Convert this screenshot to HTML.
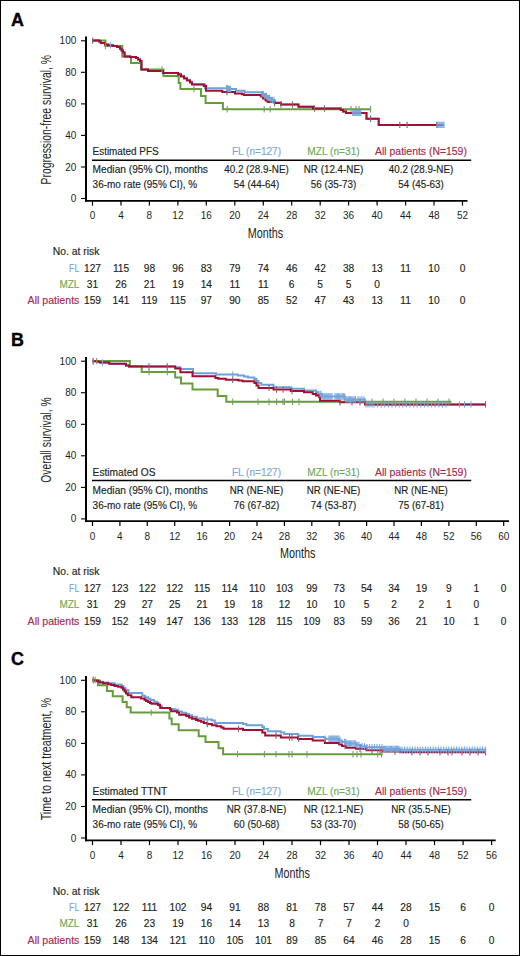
<!DOCTYPE html>
<html><head><meta charset="utf-8"><title>Kaplan-Meier curves</title>
<style>
html,body{margin:0;padding:0;background:#fff;}
body{width:520px;height:956px;overflow:hidden;}
svg{display:block;font-family:"Liberation Sans", sans-serif;}
</style></head>
<body>
<svg width="520" height="956" viewBox="0 0 520 956">
<rect x="0" y="0" width="520" height="956" fill="#fff"/>
<text x="10.9" y="25.5" font-size="17.9" font-weight="bold" fill="#000" stroke="#000" stroke-width="0.35">A</text>
<text transform="translate(51.0 119.7) rotate(-90)" text-anchor="middle" font-size="14.2" textLength="129.4" lengthAdjust="spacingAndGlyphs" fill="#231f20">Progression-free survival, %</text>
<line x1="86" y1="36.5" x2="86" y2="201.7" stroke="#000" stroke-width="2"/>
<line x1="85" y1="200.8" x2="467.5" y2="200.8" stroke="#000" stroke-width="1.8"/>
<line x1="81" y1="40.8" x2="86" y2="40.8" stroke="#000" stroke-width="1.1"/>
<text x="76.3" y="44.3" font-size="10" text-anchor="end" fill="#231f20">100</text>
<line x1="81" y1="72.3" x2="86" y2="72.3" stroke="#000" stroke-width="1.1"/>
<text x="76.3" y="75.8" font-size="10" text-anchor="end" fill="#231f20">80</text>
<line x1="81" y1="103.9" x2="86" y2="103.9" stroke="#000" stroke-width="1.1"/>
<text x="76.3" y="107.4" font-size="10" text-anchor="end" fill="#231f20">60</text>
<line x1="81" y1="135.4" x2="86" y2="135.4" stroke="#000" stroke-width="1.1"/>
<text x="76.3" y="138.9" font-size="10" text-anchor="end" fill="#231f20">40</text>
<line x1="81" y1="167.0" x2="86" y2="167.0" stroke="#000" stroke-width="1.1"/>
<text x="76.3" y="170.5" font-size="10" text-anchor="end" fill="#231f20">20</text>
<line x1="81" y1="198.5" x2="86" y2="198.5" stroke="#000" stroke-width="1.1"/>
<text x="76.3" y="202.0" font-size="10" text-anchor="end" fill="#231f20">0</text>
<line x1="92.5" y1="201.0" x2="92.5" y2="205.6" stroke="#000" stroke-width="1.2"/>
<text x="92.5" y="219.2" font-size="10" text-anchor="middle" fill="#231f20">0</text>
<line x1="121.0" y1="201.0" x2="121.0" y2="205.6" stroke="#000" stroke-width="1.2"/>
<text x="121.0" y="219.2" font-size="10" text-anchor="middle" fill="#231f20">4</text>
<line x1="149.4" y1="201.0" x2="149.4" y2="205.6" stroke="#000" stroke-width="1.2"/>
<text x="149.4" y="219.2" font-size="10" text-anchor="middle" fill="#231f20">8</text>
<line x1="177.9" y1="201.0" x2="177.9" y2="205.6" stroke="#000" stroke-width="1.2"/>
<text x="177.9" y="219.2" font-size="10" text-anchor="middle" fill="#231f20">12</text>
<line x1="206.3" y1="201.0" x2="206.3" y2="205.6" stroke="#000" stroke-width="1.2"/>
<text x="206.3" y="219.2" font-size="10" text-anchor="middle" fill="#231f20">16</text>
<line x1="234.8" y1="201.0" x2="234.8" y2="205.6" stroke="#000" stroke-width="1.2"/>
<text x="234.8" y="219.2" font-size="10" text-anchor="middle" fill="#231f20">20</text>
<line x1="263.3" y1="201.0" x2="263.3" y2="205.6" stroke="#000" stroke-width="1.2"/>
<text x="263.3" y="219.2" font-size="10" text-anchor="middle" fill="#231f20">24</text>
<line x1="291.7" y1="201.0" x2="291.7" y2="205.6" stroke="#000" stroke-width="1.2"/>
<text x="291.7" y="219.2" font-size="10" text-anchor="middle" fill="#231f20">28</text>
<line x1="320.2" y1="201.0" x2="320.2" y2="205.6" stroke="#000" stroke-width="1.2"/>
<text x="320.2" y="219.2" font-size="10" text-anchor="middle" fill="#231f20">32</text>
<line x1="348.6" y1="201.0" x2="348.6" y2="205.6" stroke="#000" stroke-width="1.2"/>
<text x="348.6" y="219.2" font-size="10" text-anchor="middle" fill="#231f20">36</text>
<line x1="377.1" y1="201.0" x2="377.1" y2="205.6" stroke="#000" stroke-width="1.2"/>
<text x="377.1" y="219.2" font-size="10" text-anchor="middle" fill="#231f20">40</text>
<line x1="405.6" y1="201.0" x2="405.6" y2="205.6" stroke="#000" stroke-width="1.2"/>
<text x="405.6" y="219.2" font-size="10" text-anchor="middle" fill="#231f20">44</text>
<line x1="434.0" y1="201.0" x2="434.0" y2="205.6" stroke="#000" stroke-width="1.2"/>
<text x="434.0" y="219.2" font-size="10" text-anchor="middle" fill="#231f20">48</text>
<line x1="462.5" y1="201.0" x2="462.5" y2="205.6" stroke="#000" stroke-width="1.2"/>
<text x="462.5" y="219.2" font-size="10" text-anchor="middle" fill="#231f20">52</text>
<text x="265.5" y="238.0" text-anchor="middle" font-size="13.8" textLength="35.4" lengthAdjust="spacingAndGlyphs" fill="#231f20">Months</text>
<text x="92.6" y="155.2" font-size="10.2" textLength="66.0" lengthAdjust="spacingAndGlyphs" fill="#231f20" stroke="#231f20" stroke-width="0.15">Estimated PFS</text>
<line x1="92" y1="160.2" x2="471.2" y2="160.2" stroke="#000" stroke-width="1.5"/>
<text x="92.6" y="173.2" font-size="10.2" textLength="115.3" lengthAdjust="spacingAndGlyphs" fill="#231f20" stroke="#231f20" stroke-width="0.15">Median (95% CI), months</text>
<text x="92.6" y="188.4" font-size="10.2" textLength="104.6" lengthAdjust="spacingAndGlyphs" fill="#231f20" stroke="#231f20" stroke-width="0.15">36-mo rate (95% CI), %</text>
<text x="256.5" y="155.2" font-size="10.2" text-anchor="middle" textLength="49.2" lengthAdjust="spacingAndGlyphs" fill="#7ca6da" stroke="#7ca6da" stroke-width="0.15">FL (n=127)</text>
<text x="256.5" y="173.2" font-size="10.2" text-anchor="middle" textLength="64.6" lengthAdjust="spacingAndGlyphs" fill="#231f20" stroke="#231f20" stroke-width="0.15">40.2 (28.9-NE)</text>
<text x="256.5" y="188.4" font-size="10.2" text-anchor="middle" textLength="45.4" lengthAdjust="spacingAndGlyphs" fill="#231f20" stroke="#231f20" stroke-width="0.15">54 (44-64)</text>
<text x="333.5" y="155.2" font-size="10.2" text-anchor="middle" textLength="52.5" lengthAdjust="spacingAndGlyphs" fill="#72a955" stroke="#72a955" stroke-width="0.15">MZL (n=31)</text>
<text x="333.5" y="173.2" font-size="10.2" text-anchor="middle" textLength="59.6" lengthAdjust="spacingAndGlyphs" fill="#231f20" stroke="#231f20" stroke-width="0.15">NR (12.4-NE)</text>
<text x="333.5" y="188.4" font-size="10.2" text-anchor="middle" textLength="45.4" lengthAdjust="spacingAndGlyphs" fill="#231f20" stroke="#231f20" stroke-width="0.15">56 (35-73)</text>
<text x="421.0" y="155.2" font-size="10.2" text-anchor="middle" textLength="91.8" lengthAdjust="spacingAndGlyphs" fill="#a62850" stroke="#a62850" stroke-width="0.15">All patients (N=159)</text>
<text x="421.0" y="173.2" font-size="10.2" text-anchor="middle" textLength="64.6" lengthAdjust="spacingAndGlyphs" fill="#231f20" stroke="#231f20" stroke-width="0.15">40.2 (28.9-NE)</text>
<text x="421.0" y="188.4" font-size="10.2" text-anchor="middle" textLength="45.4" lengthAdjust="spacingAndGlyphs" fill="#231f20" stroke="#231f20" stroke-width="0.15">54 (45-63)</text>
<path d="M92.5 40.6H99.2V41.4H100.8V42.9H105.0V44.5H108.0V45.2H113.0V46.0H117.0V47.0H120.0V48.7H121.5V50.5H123.0V52.5H124.6V56.4H130.0V57.0H136.0V58.0H138.0V59.5H140.0V61.0H141.5V69.5H148.0V71.0H163.0V73.0H178.0V73.8H181.0V75.8H184.0V77.8H187.0V79.8H190.0V81.8H192.0V84.2H203.8V84.4H205.0V88.2H228.0V89.0H236.0V90.8H244.6V92.3H262.0V94.0H265.0V96.0H268.0V98.0H271.0V100.0H274.6V102.6H281.0V104.6H298.5V106.7H313.0V108.5H340.8V110.0H343.0V111.5H346.0V112.9H366.5V118.7H378.7V124.9H443.7" fill="none" stroke="#6ea2dc" stroke-width="2"/>
<path d="M92.5 40.6H105.4V46.0H122.3V56.4H131.0V63.0H141.0V69.5H163.5V76.0H178.7V83.0H180.4V89.0H201.0V96.0H205.6V103.1H222.9V109.3H370.6" fill="none" stroke="#659d3b" stroke-width="2"/>
<path d="M92.5 40.6H99.2V41.4H100.8V42.9H105.0V44.5H108.0V45.2H113.0V46.0H117.0V47.0H120.0V48.7H121.5V50.5H123.0V52.5H124.6V56.4H130.0V57.0H136.0V58.0H138.0V59.5H140.0V61.0H141.5V69.5H148.0V71.0H163.0V73.0H178.0V74.5H181.0V76.5H184.0V78.5H187.0V80.5H190.0V82.5H192.0V84.6H203.8V86.0H206.0V90.8H222.3V92.0H235.0V93.6H242.0V94.3H244.0V95.0H260.8V96.5H263.0V98.5H265.5V100.5H267.7V102.0H274.6V103.0H281.0V104.6H298.5V106.7H313.0V108.5H340.8V110.0H343.0V111.5H346.0V112.9H366.5V118.7H378.7V124.9H443.7" fill="none" stroke="#a10f35" stroke-width="2"/>
<line x1="92.7" y1="37.4" x2="92.7" y2="43.8" stroke="#86606e" stroke-width="1.1"/>
<line x1="227.0" y1="88.8" x2="227.0" y2="95.2" stroke="#86606e" stroke-width="1.1"/>
<line x1="274.6" y1="99.8" x2="274.6" y2="106.2" stroke="#86606e" stroke-width="1.1"/>
<line x1="281.0" y1="101.4" x2="281.0" y2="107.8" stroke="#86606e" stroke-width="1.1"/>
<line x1="292.5" y1="101.4" x2="292.5" y2="107.8" stroke="#86606e" stroke-width="1.1"/>
<line x1="314.5" y1="105.3" x2="314.5" y2="111.7" stroke="#86606e" stroke-width="1.1"/>
<line x1="324.4" y1="105.3" x2="324.4" y2="111.7" stroke="#86606e" stroke-width="1.1"/>
<line x1="370.6" y1="115.5" x2="370.6" y2="121.9" stroke="#86606e" stroke-width="1.1"/>
<line x1="399.8" y1="121.7" x2="399.8" y2="128.1" stroke="#86606e" stroke-width="1.1"/>
<line x1="407.1" y1="121.7" x2="407.1" y2="128.1" stroke="#86606e" stroke-width="1.1"/>
<line x1="436.7" y1="121.7" x2="436.7" y2="128.1" stroke="#86606e" stroke-width="1.1"/>
<line x1="105.4" y1="42.8" x2="105.4" y2="49.2" stroke="#7d9a6c" stroke-width="1.1"/>
<line x1="162.0" y1="66.3" x2="162.0" y2="72.7" stroke="#7d9a6c" stroke-width="1.1"/>
<line x1="194.0" y1="85.8" x2="194.0" y2="92.2" stroke="#7d9a6c" stroke-width="1.1"/>
<line x1="227.2" y1="106.1" x2="227.2" y2="112.5" stroke="#7d9a6c" stroke-width="1.1"/>
<line x1="264.2" y1="106.1" x2="264.2" y2="112.5" stroke="#7d9a6c" stroke-width="1.1"/>
<line x1="270.2" y1="106.1" x2="270.2" y2="112.5" stroke="#7d9a6c" stroke-width="1.1"/>
<line x1="351.0" y1="106.1" x2="351.0" y2="112.5" stroke="#7d9a6c" stroke-width="1.1"/>
<line x1="356.0" y1="106.1" x2="356.0" y2="112.5" stroke="#7d9a6c" stroke-width="1.1"/>
<line x1="359.0" y1="106.1" x2="359.0" y2="112.5" stroke="#7d9a6c" stroke-width="1.1"/>
<line x1="370.6" y1="106.1" x2="370.6" y2="112.5" stroke="#7d9a6c" stroke-width="1.1"/>
<line x1="110.4" y1="42.0" x2="110.4" y2="48.4" stroke="#74a6de" stroke-width="1.1"/>
<line x1="226.5" y1="85.0" x2="226.5" y2="91.4" stroke="#74a6de" stroke-width="1.1"/>
<line x1="227.5" y1="85.0" x2="227.5" y2="91.4" stroke="#74a6de" stroke-width="1.1"/>
<line x1="228.5" y1="85.8" x2="228.5" y2="92.2" stroke="#74a6de" stroke-width="1.1"/>
<line x1="229.5" y1="85.8" x2="229.5" y2="92.2" stroke="#74a6de" stroke-width="1.1"/>
<line x1="230.5" y1="85.8" x2="230.5" y2="92.2" stroke="#74a6de" stroke-width="1.1"/>
<line x1="262.0" y1="90.8" x2="262.0" y2="97.2" stroke="#74a6de" stroke-width="1.1"/>
<line x1="263.5" y1="90.8" x2="263.5" y2="97.2" stroke="#74a6de" stroke-width="1.1"/>
<line x1="265.0" y1="92.8" x2="265.0" y2="99.2" stroke="#74a6de" stroke-width="1.1"/>
<line x1="266.5" y1="92.8" x2="266.5" y2="99.2" stroke="#74a6de" stroke-width="1.1"/>
<line x1="268.0" y1="94.8" x2="268.0" y2="101.2" stroke="#74a6de" stroke-width="1.1"/>
<line x1="269.5" y1="94.8" x2="269.5" y2="101.2" stroke="#74a6de" stroke-width="1.1"/>
<line x1="271.0" y1="96.8" x2="271.0" y2="103.2" stroke="#74a6de" stroke-width="1.1"/>
<line x1="272.5" y1="96.8" x2="272.5" y2="103.2" stroke="#74a6de" stroke-width="1.1"/>
<line x1="274.0" y1="96.8" x2="274.0" y2="103.2" stroke="#74a6de" stroke-width="1.1"/>
<line x1="352.7" y1="109.7" x2="352.7" y2="116.1" stroke="#74a6de" stroke-width="1.1"/>
<line x1="353.7" y1="109.7" x2="353.7" y2="116.1" stroke="#74a6de" stroke-width="1.1"/>
<line x1="354.7" y1="109.7" x2="354.7" y2="116.1" stroke="#74a6de" stroke-width="1.1"/>
<line x1="355.7" y1="109.7" x2="355.7" y2="116.1" stroke="#74a6de" stroke-width="1.1"/>
<line x1="356.7" y1="109.7" x2="356.7" y2="116.1" stroke="#74a6de" stroke-width="1.1"/>
<line x1="357.7" y1="109.7" x2="357.7" y2="116.1" stroke="#74a6de" stroke-width="1.1"/>
<line x1="358.7" y1="109.7" x2="358.7" y2="116.1" stroke="#74a6de" stroke-width="1.1"/>
<line x1="359.7" y1="109.7" x2="359.7" y2="116.1" stroke="#74a6de" stroke-width="1.1"/>
<line x1="360.7" y1="109.7" x2="360.7" y2="116.1" stroke="#74a6de" stroke-width="1.1"/>
<line x1="437.0" y1="121.7" x2="437.0" y2="128.1" stroke="#74a6de" stroke-width="1.1"/>
<line x1="438.0" y1="121.7" x2="438.0" y2="128.1" stroke="#74a6de" stroke-width="1.1"/>
<line x1="439.0" y1="121.7" x2="439.0" y2="128.1" stroke="#74a6de" stroke-width="1.1"/>
<line x1="440.0" y1="121.7" x2="440.0" y2="128.1" stroke="#74a6de" stroke-width="1.1"/>
<line x1="441.0" y1="121.7" x2="441.0" y2="128.1" stroke="#74a6de" stroke-width="1.1"/>
<line x1="442.0" y1="121.7" x2="442.0" y2="128.1" stroke="#74a6de" stroke-width="1.1"/>
<line x1="443.0" y1="121.7" x2="443.0" y2="128.1" stroke="#74a6de" stroke-width="1.1"/>
<line x1="444.0" y1="121.7" x2="444.0" y2="128.1" stroke="#74a6de" stroke-width="1.1"/>
<text x="52.7" y="255.0" font-size="10.2" textLength="46.8" lengthAdjust="spacingAndGlyphs" fill="#231f20" stroke="#231f20" stroke-width="0.15">No. at risk</text>
<text x="79.4" y="271.7" font-size="10.2" text-anchor="end" textLength="10.3" lengthAdjust="spacingAndGlyphs" fill="#7ca6da" stroke="#7ca6da" stroke-width="0.15">FL</text>
<text x="92.5" y="271.7" font-size="10.2" text-anchor="middle" fill="#231f20" stroke="#231f20" stroke-width="0.15">127</text>
<text x="121.0" y="271.7" font-size="10.2" text-anchor="middle" fill="#231f20" stroke="#231f20" stroke-width="0.15">115</text>
<text x="149.4" y="271.7" font-size="10.2" text-anchor="middle" fill="#231f20" stroke="#231f20" stroke-width="0.15">98</text>
<text x="177.9" y="271.7" font-size="10.2" text-anchor="middle" fill="#231f20" stroke="#231f20" stroke-width="0.15">96</text>
<text x="206.3" y="271.7" font-size="10.2" text-anchor="middle" fill="#231f20" stroke="#231f20" stroke-width="0.15">83</text>
<text x="234.8" y="271.7" font-size="10.2" text-anchor="middle" fill="#231f20" stroke="#231f20" stroke-width="0.15">79</text>
<text x="263.3" y="271.7" font-size="10.2" text-anchor="middle" fill="#231f20" stroke="#231f20" stroke-width="0.15">74</text>
<text x="291.7" y="271.7" font-size="10.2" text-anchor="middle" fill="#231f20" stroke="#231f20" stroke-width="0.15">46</text>
<text x="320.2" y="271.7" font-size="10.2" text-anchor="middle" fill="#231f20" stroke="#231f20" stroke-width="0.15">42</text>
<text x="348.6" y="271.7" font-size="10.2" text-anchor="middle" fill="#231f20" stroke="#231f20" stroke-width="0.15">38</text>
<text x="377.1" y="271.7" font-size="10.2" text-anchor="middle" fill="#231f20" stroke="#231f20" stroke-width="0.15">13</text>
<text x="405.6" y="271.7" font-size="10.2" text-anchor="middle" fill="#231f20" stroke="#231f20" stroke-width="0.15">11</text>
<text x="434.0" y="271.7" font-size="10.2" text-anchor="middle" fill="#231f20" stroke="#231f20" stroke-width="0.15">10</text>
<text x="462.5" y="271.7" font-size="10.2" text-anchor="middle" fill="#231f20" stroke="#231f20" stroke-width="0.15">0</text>
<text x="79.4" y="287.8" font-size="10.2" text-anchor="end" textLength="20.0" lengthAdjust="spacingAndGlyphs" fill="#72a955" stroke="#72a955" stroke-width="0.15">MZL</text>
<text x="92.5" y="287.8" font-size="10.2" text-anchor="middle" fill="#231f20" stroke="#231f20" stroke-width="0.15">31</text>
<text x="121.0" y="287.8" font-size="10.2" text-anchor="middle" fill="#231f20" stroke="#231f20" stroke-width="0.15">26</text>
<text x="149.4" y="287.8" font-size="10.2" text-anchor="middle" fill="#231f20" stroke="#231f20" stroke-width="0.15">21</text>
<text x="177.9" y="287.8" font-size="10.2" text-anchor="middle" fill="#231f20" stroke="#231f20" stroke-width="0.15">19</text>
<text x="206.3" y="287.8" font-size="10.2" text-anchor="middle" fill="#231f20" stroke="#231f20" stroke-width="0.15">14</text>
<text x="234.8" y="287.8" font-size="10.2" text-anchor="middle" fill="#231f20" stroke="#231f20" stroke-width="0.15">11</text>
<text x="263.3" y="287.8" font-size="10.2" text-anchor="middle" fill="#231f20" stroke="#231f20" stroke-width="0.15">11</text>
<text x="291.7" y="287.8" font-size="10.2" text-anchor="middle" fill="#231f20" stroke="#231f20" stroke-width="0.15">6</text>
<text x="320.2" y="287.8" font-size="10.2" text-anchor="middle" fill="#231f20" stroke="#231f20" stroke-width="0.15">5</text>
<text x="348.6" y="287.8" font-size="10.2" text-anchor="middle" fill="#231f20" stroke="#231f20" stroke-width="0.15">5</text>
<text x="377.1" y="287.8" font-size="10.2" text-anchor="middle" fill="#231f20" stroke="#231f20" stroke-width="0.15">0</text>
<text x="79.4" y="304.1" font-size="10.2" text-anchor="end" textLength="51.8" lengthAdjust="spacingAndGlyphs" fill="#a62850" stroke="#a62850" stroke-width="0.15">All patients</text>
<text x="92.5" y="304.1" font-size="10.2" text-anchor="middle" fill="#231f20" stroke="#231f20" stroke-width="0.15">159</text>
<text x="121.0" y="304.1" font-size="10.2" text-anchor="middle" fill="#231f20" stroke="#231f20" stroke-width="0.15">141</text>
<text x="149.4" y="304.1" font-size="10.2" text-anchor="middle" fill="#231f20" stroke="#231f20" stroke-width="0.15">119</text>
<text x="177.9" y="304.1" font-size="10.2" text-anchor="middle" fill="#231f20" stroke="#231f20" stroke-width="0.15">115</text>
<text x="206.3" y="304.1" font-size="10.2" text-anchor="middle" fill="#231f20" stroke="#231f20" stroke-width="0.15">97</text>
<text x="234.8" y="304.1" font-size="10.2" text-anchor="middle" fill="#231f20" stroke="#231f20" stroke-width="0.15">90</text>
<text x="263.3" y="304.1" font-size="10.2" text-anchor="middle" fill="#231f20" stroke="#231f20" stroke-width="0.15">85</text>
<text x="291.7" y="304.1" font-size="10.2" text-anchor="middle" fill="#231f20" stroke="#231f20" stroke-width="0.15">52</text>
<text x="320.2" y="304.1" font-size="10.2" text-anchor="middle" fill="#231f20" stroke="#231f20" stroke-width="0.15">47</text>
<text x="348.6" y="304.1" font-size="10.2" text-anchor="middle" fill="#231f20" stroke="#231f20" stroke-width="0.15">43</text>
<text x="377.1" y="304.1" font-size="10.2" text-anchor="middle" fill="#231f20" stroke="#231f20" stroke-width="0.15">13</text>
<text x="405.6" y="304.1" font-size="10.2" text-anchor="middle" fill="#231f20" stroke="#231f20" stroke-width="0.15">11</text>
<text x="434.0" y="304.1" font-size="10.2" text-anchor="middle" fill="#231f20" stroke="#231f20" stroke-width="0.15">10</text>
<text x="462.5" y="304.1" font-size="10.2" text-anchor="middle" fill="#231f20" stroke="#231f20" stroke-width="0.15">0</text>
<text x="10.9" y="345.9" font-size="17.9" font-weight="bold" fill="#000" stroke="#000" stroke-width="0.35">B</text>
<text transform="translate(51.0 440.1) rotate(-90)" text-anchor="middle" font-size="14.2" textLength="85.3" lengthAdjust="spacingAndGlyphs" fill="#231f20">Overall survival, %</text>
<line x1="86" y1="356.9" x2="86" y2="522.1" stroke="#000" stroke-width="2"/>
<line x1="85" y1="521.2" x2="509.0" y2="521.2" stroke="#000" stroke-width="1.8"/>
<line x1="81" y1="361.2" x2="86" y2="361.2" stroke="#000" stroke-width="1.1"/>
<text x="76.3" y="364.7" font-size="10" text-anchor="end" fill="#231f20">100</text>
<line x1="81" y1="392.7" x2="86" y2="392.7" stroke="#000" stroke-width="1.1"/>
<text x="76.3" y="396.2" font-size="10" text-anchor="end" fill="#231f20">80</text>
<line x1="81" y1="424.3" x2="86" y2="424.3" stroke="#000" stroke-width="1.1"/>
<text x="76.3" y="427.8" font-size="10" text-anchor="end" fill="#231f20">60</text>
<line x1="81" y1="455.8" x2="86" y2="455.8" stroke="#000" stroke-width="1.1"/>
<text x="76.3" y="459.3" font-size="10" text-anchor="end" fill="#231f20">40</text>
<line x1="81" y1="487.4" x2="86" y2="487.4" stroke="#000" stroke-width="1.1"/>
<text x="76.3" y="490.9" font-size="10" text-anchor="end" fill="#231f20">20</text>
<line x1="81" y1="518.9" x2="86" y2="518.9" stroke="#000" stroke-width="1.1"/>
<text x="76.3" y="522.4" font-size="10" text-anchor="end" fill="#231f20">0</text>
<line x1="92.5" y1="521.4" x2="92.5" y2="526.0" stroke="#000" stroke-width="1.2"/>
<text x="92.5" y="539.6" font-size="10" text-anchor="middle" fill="#231f20">0</text>
<line x1="119.9" y1="521.4" x2="119.9" y2="526.0" stroke="#000" stroke-width="1.2"/>
<text x="119.9" y="539.6" font-size="10" text-anchor="middle" fill="#231f20">4</text>
<line x1="147.3" y1="521.4" x2="147.3" y2="526.0" stroke="#000" stroke-width="1.2"/>
<text x="147.3" y="539.6" font-size="10" text-anchor="middle" fill="#231f20">8</text>
<line x1="174.7" y1="521.4" x2="174.7" y2="526.0" stroke="#000" stroke-width="1.2"/>
<text x="174.7" y="539.6" font-size="10" text-anchor="middle" fill="#231f20">12</text>
<line x1="202.1" y1="521.4" x2="202.1" y2="526.0" stroke="#000" stroke-width="1.2"/>
<text x="202.1" y="539.6" font-size="10" text-anchor="middle" fill="#231f20">16</text>
<line x1="229.6" y1="521.4" x2="229.6" y2="526.0" stroke="#000" stroke-width="1.2"/>
<text x="229.6" y="539.6" font-size="10" text-anchor="middle" fill="#231f20">20</text>
<line x1="257.0" y1="521.4" x2="257.0" y2="526.0" stroke="#000" stroke-width="1.2"/>
<text x="257.0" y="539.6" font-size="10" text-anchor="middle" fill="#231f20">24</text>
<line x1="284.4" y1="521.4" x2="284.4" y2="526.0" stroke="#000" stroke-width="1.2"/>
<text x="284.4" y="539.6" font-size="10" text-anchor="middle" fill="#231f20">28</text>
<line x1="311.8" y1="521.4" x2="311.8" y2="526.0" stroke="#000" stroke-width="1.2"/>
<text x="311.8" y="539.6" font-size="10" text-anchor="middle" fill="#231f20">32</text>
<line x1="339.2" y1="521.4" x2="339.2" y2="526.0" stroke="#000" stroke-width="1.2"/>
<text x="339.2" y="539.6" font-size="10" text-anchor="middle" fill="#231f20">36</text>
<line x1="366.6" y1="521.4" x2="366.6" y2="526.0" stroke="#000" stroke-width="1.2"/>
<text x="366.6" y="539.6" font-size="10" text-anchor="middle" fill="#231f20">40</text>
<line x1="394.0" y1="521.4" x2="394.0" y2="526.0" stroke="#000" stroke-width="1.2"/>
<text x="394.0" y="539.6" font-size="10" text-anchor="middle" fill="#231f20">44</text>
<line x1="421.4" y1="521.4" x2="421.4" y2="526.0" stroke="#000" stroke-width="1.2"/>
<text x="421.4" y="539.6" font-size="10" text-anchor="middle" fill="#231f20">48</text>
<line x1="448.9" y1="521.4" x2="448.9" y2="526.0" stroke="#000" stroke-width="1.2"/>
<text x="448.9" y="539.6" font-size="10" text-anchor="middle" fill="#231f20">52</text>
<line x1="476.3" y1="521.4" x2="476.3" y2="526.0" stroke="#000" stroke-width="1.2"/>
<text x="476.3" y="539.6" font-size="10" text-anchor="middle" fill="#231f20">56</text>
<line x1="503.7" y1="521.4" x2="503.7" y2="526.0" stroke="#000" stroke-width="1.2"/>
<text x="503.7" y="539.6" font-size="10" text-anchor="middle" fill="#231f20">60</text>
<text x="297.8" y="558.4" text-anchor="middle" font-size="13.8" textLength="35.4" lengthAdjust="spacingAndGlyphs" fill="#231f20">Months</text>
<text x="92.6" y="475.6" font-size="10.2" textLength="63.0" lengthAdjust="spacingAndGlyphs" fill="#231f20" stroke="#231f20" stroke-width="0.15">Estimated OS</text>
<line x1="92" y1="480.6" x2="471.2" y2="480.6" stroke="#000" stroke-width="1.5"/>
<text x="92.6" y="493.6" font-size="10.2" textLength="115.3" lengthAdjust="spacingAndGlyphs" fill="#231f20" stroke="#231f20" stroke-width="0.15">Median (95% CI), months</text>
<text x="92.6" y="508.8" font-size="10.2" textLength="104.6" lengthAdjust="spacingAndGlyphs" fill="#231f20" stroke="#231f20" stroke-width="0.15">36-mo rate (95% CI), %</text>
<text x="256.5" y="475.6" font-size="10.2" text-anchor="middle" textLength="49.2" lengthAdjust="spacingAndGlyphs" fill="#7ca6da" stroke="#7ca6da" stroke-width="0.15">FL (n=127)</text>
<text x="256.5" y="493.6" font-size="10.2" text-anchor="middle" textLength="53.6" lengthAdjust="spacingAndGlyphs" fill="#231f20" stroke="#231f20" stroke-width="0.15">NR (NE-NE)</text>
<text x="256.5" y="508.8" font-size="10.2" text-anchor="middle" textLength="45.4" lengthAdjust="spacingAndGlyphs" fill="#231f20" stroke="#231f20" stroke-width="0.15">76 (67-82)</text>
<text x="333.5" y="475.6" font-size="10.2" text-anchor="middle" textLength="52.5" lengthAdjust="spacingAndGlyphs" fill="#72a955" stroke="#72a955" stroke-width="0.15">MZL (n=31)</text>
<text x="333.5" y="493.6" font-size="10.2" text-anchor="middle" textLength="53.6" lengthAdjust="spacingAndGlyphs" fill="#231f20" stroke="#231f20" stroke-width="0.15">NR (NE-NE)</text>
<text x="333.5" y="508.8" font-size="10.2" text-anchor="middle" textLength="45.4" lengthAdjust="spacingAndGlyphs" fill="#231f20" stroke="#231f20" stroke-width="0.15">74 (53-87)</text>
<text x="421.0" y="475.6" font-size="10.2" text-anchor="middle" textLength="91.8" lengthAdjust="spacingAndGlyphs" fill="#a62850" stroke="#a62850" stroke-width="0.15">All patients (N=159)</text>
<text x="421.0" y="493.6" font-size="10.2" text-anchor="middle" textLength="53.6" lengthAdjust="spacingAndGlyphs" fill="#231f20" stroke="#231f20" stroke-width="0.15">NR (NE-NE)</text>
<text x="421.0" y="508.8" font-size="10.2" text-anchor="middle" textLength="45.4" lengthAdjust="spacingAndGlyphs" fill="#231f20" stroke="#231f20" stroke-width="0.15">75 (67-81)</text>
<path d="M92.5 361.3H97.0V361.8H100.0V362.5H109.3V363.7H126.0V365.4H129.0V366.5H175.2V367.3H180.4V369.0H193.0V373.3H216.0V374.5H237.9V375.5H244.0V376.6H248.0V377.6H254.4V379.0H256.5V381.0H258.5V383.0H261.3V384.8H273.5V387.3H290.8V388.7H304.0V390.4H316.0V392.0H318.0V394.0H322.0V396.5H345.0V399.5H365.0V404.4H485.5" fill="none" stroke="#6ea2dc" stroke-width="2"/>
<path d="M92.5 361.1H129.8V366.2H141.7V372.0H175.2V377.5H181.0V383.6H192.5V389.6H217.7V395.9H226.3V401.8H451.5" fill="none" stroke="#659d3b" stroke-width="2"/>
<path d="M92.5 361.3H97.0V361.8H100.0V362.5H109.3V363.7H126.0V365.4H129.0V366.5H175.2V368.6H180.4V372.3H192.5V376.2H215.4V377.9H218.3V378.8H225.8V379.7H238.5V380.6H242.5V381.3H254.4V383.0H256.5V385.5H258.5V387.9H273.5V389.6H290.8V391.0H304.0V392.3H312.7V394.0H316.0V395.5H319.2V397.0H320.0V400.8H340.0V402.3H365.0V404.4H485.5" fill="none" stroke="#a10f35" stroke-width="2"/>
<line x1="93.2" y1="358.1" x2="93.2" y2="364.5" stroke="#86606e" stroke-width="1.1"/>
<line x1="149.0" y1="363.3" x2="149.0" y2="369.7" stroke="#86606e" stroke-width="1.1"/>
<line x1="167.3" y1="363.3" x2="167.3" y2="369.7" stroke="#86606e" stroke-width="1.1"/>
<line x1="232.7" y1="376.5" x2="232.7" y2="382.9" stroke="#86606e" stroke-width="1.1"/>
<line x1="269.0" y1="384.7" x2="269.0" y2="391.1" stroke="#86606e" stroke-width="1.1"/>
<line x1="276.5" y1="386.4" x2="276.5" y2="392.8" stroke="#86606e" stroke-width="1.1"/>
<line x1="283.0" y1="386.4" x2="283.0" y2="392.8" stroke="#86606e" stroke-width="1.1"/>
<line x1="292.0" y1="387.8" x2="292.0" y2="394.2" stroke="#86606e" stroke-width="1.1"/>
<line x1="340.0" y1="399.1" x2="340.0" y2="405.5" stroke="#86606e" stroke-width="1.1"/>
<line x1="352.0" y1="399.1" x2="352.0" y2="405.5" stroke="#86606e" stroke-width="1.1"/>
<line x1="360.0" y1="399.1" x2="360.0" y2="405.5" stroke="#86606e" stroke-width="1.1"/>
<line x1="485.5" y1="401.2" x2="485.5" y2="407.6" stroke="#86606e" stroke-width="1.1"/>
<line x1="93.2" y1="357.9" x2="93.2" y2="364.3" stroke="#7d9a6c" stroke-width="1.1"/>
<line x1="96.7" y1="357.9" x2="96.7" y2="364.3" stroke="#7d9a6c" stroke-width="1.1"/>
<line x1="149.0" y1="368.8" x2="149.0" y2="375.2" stroke="#7d9a6c" stroke-width="1.1"/>
<line x1="167.3" y1="368.8" x2="167.3" y2="375.2" stroke="#7d9a6c" stroke-width="1.1"/>
<line x1="232.7" y1="398.6" x2="232.7" y2="405.0" stroke="#7d9a6c" stroke-width="1.1"/>
<line x1="258.0" y1="398.6" x2="258.0" y2="405.0" stroke="#7d9a6c" stroke-width="1.1"/>
<line x1="269.0" y1="398.6" x2="269.0" y2="405.0" stroke="#7d9a6c" stroke-width="1.1"/>
<line x1="276.6" y1="398.6" x2="276.6" y2="405.0" stroke="#7d9a6c" stroke-width="1.1"/>
<line x1="283.0" y1="398.6" x2="283.0" y2="405.0" stroke="#7d9a6c" stroke-width="1.1"/>
<line x1="284.5" y1="398.6" x2="284.5" y2="405.0" stroke="#7d9a6c" stroke-width="1.1"/>
<line x1="292.5" y1="398.6" x2="292.5" y2="405.0" stroke="#7d9a6c" stroke-width="1.1"/>
<line x1="299.0" y1="398.6" x2="299.0" y2="405.0" stroke="#7d9a6c" stroke-width="1.1"/>
<line x1="372.0" y1="398.6" x2="372.0" y2="405.0" stroke="#7d9a6c" stroke-width="1.1"/>
<line x1="383.0" y1="398.6" x2="383.0" y2="405.0" stroke="#7d9a6c" stroke-width="1.1"/>
<line x1="394.0" y1="398.6" x2="394.0" y2="405.0" stroke="#7d9a6c" stroke-width="1.1"/>
<line x1="405.0" y1="398.6" x2="405.0" y2="405.0" stroke="#7d9a6c" stroke-width="1.1"/>
<line x1="416.0" y1="398.6" x2="416.0" y2="405.0" stroke="#7d9a6c" stroke-width="1.1"/>
<line x1="427.0" y1="398.6" x2="427.0" y2="405.0" stroke="#7d9a6c" stroke-width="1.1"/>
<line x1="438.0" y1="398.6" x2="438.0" y2="405.0" stroke="#7d9a6c" stroke-width="1.1"/>
<line x1="449.0" y1="398.6" x2="449.0" y2="405.0" stroke="#7d9a6c" stroke-width="1.1"/>
<line x1="102.4" y1="359.3" x2="102.4" y2="365.7" stroke="#74a6de" stroke-width="1.1"/>
<line x1="232.7" y1="371.3" x2="232.7" y2="377.7" stroke="#74a6de" stroke-width="1.1"/>
<line x1="320.0" y1="390.8" x2="320.0" y2="397.2" stroke="#74a6de" stroke-width="1.1"/>
<line x1="321.0" y1="390.8" x2="321.0" y2="397.2" stroke="#74a6de" stroke-width="1.1"/>
<line x1="322.0" y1="393.3" x2="322.0" y2="399.7" stroke="#74a6de" stroke-width="1.1"/>
<line x1="323.0" y1="393.3" x2="323.0" y2="399.7" stroke="#74a6de" stroke-width="1.1"/>
<line x1="324.0" y1="393.3" x2="324.0" y2="399.7" stroke="#74a6de" stroke-width="1.1"/>
<line x1="325.0" y1="393.3" x2="325.0" y2="399.7" stroke="#74a6de" stroke-width="1.1"/>
<line x1="326.0" y1="393.3" x2="326.0" y2="399.7" stroke="#74a6de" stroke-width="1.1"/>
<line x1="327.0" y1="393.3" x2="327.0" y2="399.7" stroke="#74a6de" stroke-width="1.1"/>
<line x1="328.0" y1="393.3" x2="328.0" y2="399.7" stroke="#74a6de" stroke-width="1.1"/>
<line x1="329.0" y1="393.3" x2="329.0" y2="399.7" stroke="#74a6de" stroke-width="1.1"/>
<line x1="330.0" y1="393.3" x2="330.0" y2="399.7" stroke="#74a6de" stroke-width="1.1"/>
<line x1="331.0" y1="393.3" x2="331.0" y2="399.7" stroke="#74a6de" stroke-width="1.1"/>
<line x1="332.0" y1="393.3" x2="332.0" y2="399.7" stroke="#74a6de" stroke-width="1.1"/>
<line x1="335.0" y1="393.3" x2="335.0" y2="399.7" stroke="#74a6de" stroke-width="1.1"/>
<line x1="336.2" y1="393.3" x2="336.2" y2="399.7" stroke="#74a6de" stroke-width="1.1"/>
<line x1="337.4" y1="393.3" x2="337.4" y2="399.7" stroke="#74a6de" stroke-width="1.1"/>
<line x1="338.6" y1="393.3" x2="338.6" y2="399.7" stroke="#74a6de" stroke-width="1.1"/>
<line x1="339.8" y1="393.3" x2="339.8" y2="399.7" stroke="#74a6de" stroke-width="1.1"/>
<line x1="341.0" y1="393.3" x2="341.0" y2="399.7" stroke="#74a6de" stroke-width="1.1"/>
<line x1="342.2" y1="393.3" x2="342.2" y2="399.7" stroke="#74a6de" stroke-width="1.1"/>
<line x1="343.4" y1="393.3" x2="343.4" y2="399.7" stroke="#74a6de" stroke-width="1.1"/>
<line x1="344.6" y1="393.3" x2="344.6" y2="399.7" stroke="#74a6de" stroke-width="1.1"/>
<line x1="345.8" y1="396.3" x2="345.8" y2="402.7" stroke="#74a6de" stroke-width="1.1"/>
<line x1="347.0" y1="396.3" x2="347.0" y2="402.7" stroke="#74a6de" stroke-width="1.1"/>
<line x1="348.2" y1="396.3" x2="348.2" y2="402.7" stroke="#74a6de" stroke-width="1.1"/>
<line x1="349.4" y1="396.3" x2="349.4" y2="402.7" stroke="#74a6de" stroke-width="1.1"/>
<line x1="350.6" y1="396.3" x2="350.6" y2="402.7" stroke="#74a6de" stroke-width="1.1"/>
<line x1="351.8" y1="396.3" x2="351.8" y2="402.7" stroke="#74a6de" stroke-width="1.1"/>
<line x1="353.0" y1="396.3" x2="353.0" y2="402.7" stroke="#74a6de" stroke-width="1.1"/>
<line x1="354.2" y1="396.3" x2="354.2" y2="402.7" stroke="#74a6de" stroke-width="1.1"/>
<line x1="355.4" y1="396.3" x2="355.4" y2="402.7" stroke="#74a6de" stroke-width="1.1"/>
<line x1="358.0" y1="396.3" x2="358.0" y2="402.7" stroke="#74a6de" stroke-width="1.1"/>
<line x1="360.0" y1="396.3" x2="360.0" y2="402.7" stroke="#74a6de" stroke-width="1.1"/>
<line x1="362.0" y1="396.3" x2="362.0" y2="402.7" stroke="#74a6de" stroke-width="1.1"/>
<line x1="364.0" y1="396.3" x2="364.0" y2="402.7" stroke="#74a6de" stroke-width="1.1"/>
<line x1="366.0" y1="401.2" x2="366.0" y2="407.6" stroke="#74a6de" stroke-width="1.1"/>
<line x1="368.0" y1="401.2" x2="368.0" y2="407.6" stroke="#74a6de" stroke-width="1.1"/>
<line x1="370.0" y1="401.2" x2="370.0" y2="407.6" stroke="#74a6de" stroke-width="1.1"/>
<line x1="372.0" y1="401.2" x2="372.0" y2="407.6" stroke="#74a6de" stroke-width="1.1"/>
<line x1="374.0" y1="401.2" x2="374.0" y2="407.6" stroke="#74a6de" stroke-width="1.1"/>
<line x1="377.6" y1="401.2" x2="377.6" y2="407.6" stroke="#74a6de" stroke-width="1.1"/>
<line x1="381.2" y1="401.2" x2="381.2" y2="407.6" stroke="#74a6de" stroke-width="1.1"/>
<line x1="384.8" y1="401.2" x2="384.8" y2="407.6" stroke="#74a6de" stroke-width="1.1"/>
<line x1="388.4" y1="401.2" x2="388.4" y2="407.6" stroke="#74a6de" stroke-width="1.1"/>
<line x1="392.0" y1="401.2" x2="392.0" y2="407.6" stroke="#74a6de" stroke-width="1.1"/>
<line x1="395.6" y1="401.2" x2="395.6" y2="407.6" stroke="#74a6de" stroke-width="1.1"/>
<line x1="399.2" y1="401.2" x2="399.2" y2="407.6" stroke="#74a6de" stroke-width="1.1"/>
<line x1="402.8" y1="401.2" x2="402.8" y2="407.6" stroke="#74a6de" stroke-width="1.1"/>
<line x1="406.4" y1="401.2" x2="406.4" y2="407.6" stroke="#74a6de" stroke-width="1.1"/>
<line x1="410.0" y1="401.2" x2="410.0" y2="407.6" stroke="#74a6de" stroke-width="1.1"/>
<line x1="413.6" y1="401.2" x2="413.6" y2="407.6" stroke="#74a6de" stroke-width="1.1"/>
<line x1="417.2" y1="401.2" x2="417.2" y2="407.6" stroke="#74a6de" stroke-width="1.1"/>
<line x1="420.8" y1="401.2" x2="420.8" y2="407.6" stroke="#74a6de" stroke-width="1.1"/>
<line x1="424.4" y1="401.2" x2="424.4" y2="407.6" stroke="#74a6de" stroke-width="1.1"/>
<line x1="428.0" y1="401.2" x2="428.0" y2="407.6" stroke="#74a6de" stroke-width="1.1"/>
<line x1="431.6" y1="401.2" x2="431.6" y2="407.6" stroke="#74a6de" stroke-width="1.1"/>
<line x1="435.2" y1="401.2" x2="435.2" y2="407.6" stroke="#74a6de" stroke-width="1.1"/>
<line x1="438.8" y1="401.2" x2="438.8" y2="407.6" stroke="#74a6de" stroke-width="1.1"/>
<line x1="442.4" y1="401.2" x2="442.4" y2="407.6" stroke="#74a6de" stroke-width="1.1"/>
<line x1="446.0" y1="401.2" x2="446.0" y2="407.6" stroke="#74a6de" stroke-width="1.1"/>
<line x1="459.5" y1="401.2" x2="459.5" y2="407.6" stroke="#74a6de" stroke-width="1.1"/>
<line x1="464.5" y1="401.2" x2="464.5" y2="407.6" stroke="#74a6de" stroke-width="1.1"/>
<line x1="471.0" y1="401.2" x2="471.0" y2="407.6" stroke="#74a6de" stroke-width="1.1"/>
<text x="52.7" y="575.4" font-size="10.2" textLength="46.8" lengthAdjust="spacingAndGlyphs" fill="#231f20" stroke="#231f20" stroke-width="0.15">No. at risk</text>
<text x="79.4" y="592.1" font-size="10.2" text-anchor="end" textLength="10.3" lengthAdjust="spacingAndGlyphs" fill="#7ca6da" stroke="#7ca6da" stroke-width="0.15">FL</text>
<text x="92.5" y="592.1" font-size="10.2" text-anchor="middle" fill="#231f20" stroke="#231f20" stroke-width="0.15">127</text>
<text x="119.9" y="592.1" font-size="10.2" text-anchor="middle" fill="#231f20" stroke="#231f20" stroke-width="0.15">123</text>
<text x="147.3" y="592.1" font-size="10.2" text-anchor="middle" fill="#231f20" stroke="#231f20" stroke-width="0.15">122</text>
<text x="174.7" y="592.1" font-size="10.2" text-anchor="middle" fill="#231f20" stroke="#231f20" stroke-width="0.15">122</text>
<text x="202.1" y="592.1" font-size="10.2" text-anchor="middle" fill="#231f20" stroke="#231f20" stroke-width="0.15">115</text>
<text x="229.6" y="592.1" font-size="10.2" text-anchor="middle" fill="#231f20" stroke="#231f20" stroke-width="0.15">114</text>
<text x="257.0" y="592.1" font-size="10.2" text-anchor="middle" fill="#231f20" stroke="#231f20" stroke-width="0.15">110</text>
<text x="284.4" y="592.1" font-size="10.2" text-anchor="middle" fill="#231f20" stroke="#231f20" stroke-width="0.15">103</text>
<text x="311.8" y="592.1" font-size="10.2" text-anchor="middle" fill="#231f20" stroke="#231f20" stroke-width="0.15">99</text>
<text x="339.2" y="592.1" font-size="10.2" text-anchor="middle" fill="#231f20" stroke="#231f20" stroke-width="0.15">73</text>
<text x="366.6" y="592.1" font-size="10.2" text-anchor="middle" fill="#231f20" stroke="#231f20" stroke-width="0.15">54</text>
<text x="394.0" y="592.1" font-size="10.2" text-anchor="middle" fill="#231f20" stroke="#231f20" stroke-width="0.15">34</text>
<text x="421.4" y="592.1" font-size="10.2" text-anchor="middle" fill="#231f20" stroke="#231f20" stroke-width="0.15">19</text>
<text x="448.9" y="592.1" font-size="10.2" text-anchor="middle" fill="#231f20" stroke="#231f20" stroke-width="0.15">9</text>
<text x="476.3" y="592.1" font-size="10.2" text-anchor="middle" fill="#231f20" stroke="#231f20" stroke-width="0.15">1</text>
<text x="503.7" y="592.1" font-size="10.2" text-anchor="middle" fill="#231f20" stroke="#231f20" stroke-width="0.15">0</text>
<text x="79.4" y="608.2" font-size="10.2" text-anchor="end" textLength="20.0" lengthAdjust="spacingAndGlyphs" fill="#72a955" stroke="#72a955" stroke-width="0.15">MZL</text>
<text x="92.5" y="608.2" font-size="10.2" text-anchor="middle" fill="#231f20" stroke="#231f20" stroke-width="0.15">31</text>
<text x="119.9" y="608.2" font-size="10.2" text-anchor="middle" fill="#231f20" stroke="#231f20" stroke-width="0.15">29</text>
<text x="147.3" y="608.2" font-size="10.2" text-anchor="middle" fill="#231f20" stroke="#231f20" stroke-width="0.15">27</text>
<text x="174.7" y="608.2" font-size="10.2" text-anchor="middle" fill="#231f20" stroke="#231f20" stroke-width="0.15">25</text>
<text x="202.1" y="608.2" font-size="10.2" text-anchor="middle" fill="#231f20" stroke="#231f20" stroke-width="0.15">21</text>
<text x="229.6" y="608.2" font-size="10.2" text-anchor="middle" fill="#231f20" stroke="#231f20" stroke-width="0.15">19</text>
<text x="257.0" y="608.2" font-size="10.2" text-anchor="middle" fill="#231f20" stroke="#231f20" stroke-width="0.15">18</text>
<text x="284.4" y="608.2" font-size="10.2" text-anchor="middle" fill="#231f20" stroke="#231f20" stroke-width="0.15">12</text>
<text x="311.8" y="608.2" font-size="10.2" text-anchor="middle" fill="#231f20" stroke="#231f20" stroke-width="0.15">10</text>
<text x="339.2" y="608.2" font-size="10.2" text-anchor="middle" fill="#231f20" stroke="#231f20" stroke-width="0.15">10</text>
<text x="366.6" y="608.2" font-size="10.2" text-anchor="middle" fill="#231f20" stroke="#231f20" stroke-width="0.15">5</text>
<text x="394.0" y="608.2" font-size="10.2" text-anchor="middle" fill="#231f20" stroke="#231f20" stroke-width="0.15">2</text>
<text x="421.4" y="608.2" font-size="10.2" text-anchor="middle" fill="#231f20" stroke="#231f20" stroke-width="0.15">2</text>
<text x="448.9" y="608.2" font-size="10.2" text-anchor="middle" fill="#231f20" stroke="#231f20" stroke-width="0.15">1</text>
<text x="476.3" y="608.2" font-size="10.2" text-anchor="middle" fill="#231f20" stroke="#231f20" stroke-width="0.15">0</text>
<text x="79.4" y="624.5" font-size="10.2" text-anchor="end" textLength="51.8" lengthAdjust="spacingAndGlyphs" fill="#a62850" stroke="#a62850" stroke-width="0.15">All patients</text>
<text x="92.5" y="624.5" font-size="10.2" text-anchor="middle" fill="#231f20" stroke="#231f20" stroke-width="0.15">159</text>
<text x="119.9" y="624.5" font-size="10.2" text-anchor="middle" fill="#231f20" stroke="#231f20" stroke-width="0.15">152</text>
<text x="147.3" y="624.5" font-size="10.2" text-anchor="middle" fill="#231f20" stroke="#231f20" stroke-width="0.15">149</text>
<text x="174.7" y="624.5" font-size="10.2" text-anchor="middle" fill="#231f20" stroke="#231f20" stroke-width="0.15">147</text>
<text x="202.1" y="624.5" font-size="10.2" text-anchor="middle" fill="#231f20" stroke="#231f20" stroke-width="0.15">136</text>
<text x="229.6" y="624.5" font-size="10.2" text-anchor="middle" fill="#231f20" stroke="#231f20" stroke-width="0.15">133</text>
<text x="257.0" y="624.5" font-size="10.2" text-anchor="middle" fill="#231f20" stroke="#231f20" stroke-width="0.15">128</text>
<text x="284.4" y="624.5" font-size="10.2" text-anchor="middle" fill="#231f20" stroke="#231f20" stroke-width="0.15">115</text>
<text x="311.8" y="624.5" font-size="10.2" text-anchor="middle" fill="#231f20" stroke="#231f20" stroke-width="0.15">109</text>
<text x="339.2" y="624.5" font-size="10.2" text-anchor="middle" fill="#231f20" stroke="#231f20" stroke-width="0.15">83</text>
<text x="366.6" y="624.5" font-size="10.2" text-anchor="middle" fill="#231f20" stroke="#231f20" stroke-width="0.15">59</text>
<text x="394.0" y="624.5" font-size="10.2" text-anchor="middle" fill="#231f20" stroke="#231f20" stroke-width="0.15">36</text>
<text x="421.4" y="624.5" font-size="10.2" text-anchor="middle" fill="#231f20" stroke="#231f20" stroke-width="0.15">21</text>
<text x="448.9" y="624.5" font-size="10.2" text-anchor="middle" fill="#231f20" stroke="#231f20" stroke-width="0.15">10</text>
<text x="476.3" y="624.5" font-size="10.2" text-anchor="middle" fill="#231f20" stroke="#231f20" stroke-width="0.15">1</text>
<text x="503.7" y="624.5" font-size="10.2" text-anchor="middle" fill="#231f20" stroke="#231f20" stroke-width="0.15">0</text>
<text x="10.9" y="665.0" font-size="17.9" font-weight="bold" fill="#000" stroke="#000" stroke-width="0.35">C</text>
<text transform="translate(51.0 759.2) rotate(-90)" text-anchor="middle" font-size="14.2" textLength="122.2" lengthAdjust="spacingAndGlyphs" fill="#231f20">Time to next treatment, %</text>
<line x1="86" y1="676.0" x2="86" y2="841.2" stroke="#000" stroke-width="2"/>
<line x1="85" y1="840.3" x2="495.7" y2="840.3" stroke="#000" stroke-width="1.8"/>
<line x1="81" y1="680.3" x2="86" y2="680.3" stroke="#000" stroke-width="1.1"/>
<text x="76.3" y="683.8" font-size="10" text-anchor="end" fill="#231f20">100</text>
<line x1="81" y1="711.8" x2="86" y2="711.8" stroke="#000" stroke-width="1.1"/>
<text x="76.3" y="715.3" font-size="10" text-anchor="end" fill="#231f20">80</text>
<line x1="81" y1="743.4" x2="86" y2="743.4" stroke="#000" stroke-width="1.1"/>
<text x="76.3" y="746.9" font-size="10" text-anchor="end" fill="#231f20">60</text>
<line x1="81" y1="774.9" x2="86" y2="774.9" stroke="#000" stroke-width="1.1"/>
<text x="76.3" y="778.4" font-size="10" text-anchor="end" fill="#231f20">40</text>
<line x1="81" y1="806.5" x2="86" y2="806.5" stroke="#000" stroke-width="1.1"/>
<text x="76.3" y="810.0" font-size="10" text-anchor="end" fill="#231f20">20</text>
<line x1="81" y1="838.0" x2="86" y2="838.0" stroke="#000" stroke-width="1.1"/>
<text x="76.3" y="841.5" font-size="10" text-anchor="end" fill="#231f20">0</text>
<line x1="92.5" y1="840.5" x2="92.5" y2="845.1" stroke="#000" stroke-width="1.2"/>
<text x="92.5" y="858.7" font-size="10" text-anchor="middle" fill="#231f20">0</text>
<line x1="121.0" y1="840.5" x2="121.0" y2="845.1" stroke="#000" stroke-width="1.2"/>
<text x="121.0" y="858.7" font-size="10" text-anchor="middle" fill="#231f20">4</text>
<line x1="149.5" y1="840.5" x2="149.5" y2="845.1" stroke="#000" stroke-width="1.2"/>
<text x="149.5" y="858.7" font-size="10" text-anchor="middle" fill="#231f20">8</text>
<line x1="178.0" y1="840.5" x2="178.0" y2="845.1" stroke="#000" stroke-width="1.2"/>
<text x="178.0" y="858.7" font-size="10" text-anchor="middle" fill="#231f20">12</text>
<line x1="206.5" y1="840.5" x2="206.5" y2="845.1" stroke="#000" stroke-width="1.2"/>
<text x="206.5" y="858.7" font-size="10" text-anchor="middle" fill="#231f20">16</text>
<line x1="235.0" y1="840.5" x2="235.0" y2="845.1" stroke="#000" stroke-width="1.2"/>
<text x="235.0" y="858.7" font-size="10" text-anchor="middle" fill="#231f20">20</text>
<line x1="263.5" y1="840.5" x2="263.5" y2="845.1" stroke="#000" stroke-width="1.2"/>
<text x="263.5" y="858.7" font-size="10" text-anchor="middle" fill="#231f20">24</text>
<line x1="292.0" y1="840.5" x2="292.0" y2="845.1" stroke="#000" stroke-width="1.2"/>
<text x="292.0" y="858.7" font-size="10" text-anchor="middle" fill="#231f20">28</text>
<line x1="320.5" y1="840.5" x2="320.5" y2="845.1" stroke="#000" stroke-width="1.2"/>
<text x="320.5" y="858.7" font-size="10" text-anchor="middle" fill="#231f20">32</text>
<line x1="349.0" y1="840.5" x2="349.0" y2="845.1" stroke="#000" stroke-width="1.2"/>
<text x="349.0" y="858.7" font-size="10" text-anchor="middle" fill="#231f20">36</text>
<line x1="377.5" y1="840.5" x2="377.5" y2="845.1" stroke="#000" stroke-width="1.2"/>
<text x="377.5" y="858.7" font-size="10" text-anchor="middle" fill="#231f20">40</text>
<line x1="406.0" y1="840.5" x2="406.0" y2="845.1" stroke="#000" stroke-width="1.2"/>
<text x="406.0" y="858.7" font-size="10" text-anchor="middle" fill="#231f20">44</text>
<line x1="434.5" y1="840.5" x2="434.5" y2="845.1" stroke="#000" stroke-width="1.2"/>
<text x="434.5" y="858.7" font-size="10" text-anchor="middle" fill="#231f20">48</text>
<line x1="463.1" y1="840.5" x2="463.1" y2="845.1" stroke="#000" stroke-width="1.2"/>
<text x="463.1" y="858.7" font-size="10" text-anchor="middle" fill="#231f20">52</text>
<line x1="491.6" y1="840.5" x2="491.6" y2="845.1" stroke="#000" stroke-width="1.2"/>
<text x="491.6" y="858.7" font-size="10" text-anchor="middle" fill="#231f20">56</text>
<text x="292.3" y="877.5" text-anchor="middle" font-size="13.8" textLength="35.4" lengthAdjust="spacingAndGlyphs" fill="#231f20">Months</text>
<text x="92.6" y="794.7" font-size="10.2" textLength="74.6" lengthAdjust="spacingAndGlyphs" fill="#231f20" stroke="#231f20" stroke-width="0.15">Estimated TTNT</text>
<line x1="92" y1="799.7" x2="471.2" y2="799.7" stroke="#000" stroke-width="1.5"/>
<text x="92.6" y="812.7" font-size="10.2" textLength="115.3" lengthAdjust="spacingAndGlyphs" fill="#231f20" stroke="#231f20" stroke-width="0.15">Median (95% CI), months</text>
<text x="92.6" y="827.9" font-size="10.2" textLength="104.6" lengthAdjust="spacingAndGlyphs" fill="#231f20" stroke="#231f20" stroke-width="0.15">36-mo rate (95% CI), %</text>
<text x="256.5" y="794.7" font-size="10.2" text-anchor="middle" textLength="49.2" lengthAdjust="spacingAndGlyphs" fill="#7ca6da" stroke="#7ca6da" stroke-width="0.15">FL (n=127)</text>
<text x="256.5" y="812.7" font-size="10.2" text-anchor="middle" textLength="59.6" lengthAdjust="spacingAndGlyphs" fill="#231f20" stroke="#231f20" stroke-width="0.15">NR (37.8-NE)</text>
<text x="256.5" y="827.9" font-size="10.2" text-anchor="middle" textLength="45.4" lengthAdjust="spacingAndGlyphs" fill="#231f20" stroke="#231f20" stroke-width="0.15">60 (50-68)</text>
<text x="333.5" y="794.7" font-size="10.2" text-anchor="middle" textLength="52.5" lengthAdjust="spacingAndGlyphs" fill="#72a955" stroke="#72a955" stroke-width="0.15">MZL (n=31)</text>
<text x="333.5" y="812.7" font-size="10.2" text-anchor="middle" textLength="59.6" lengthAdjust="spacingAndGlyphs" fill="#231f20" stroke="#231f20" stroke-width="0.15">NR (12.1-NE)</text>
<text x="333.5" y="827.9" font-size="10.2" text-anchor="middle" textLength="45.4" lengthAdjust="spacingAndGlyphs" fill="#231f20" stroke="#231f20" stroke-width="0.15">53 (33-70)</text>
<text x="421.0" y="794.7" font-size="10.2" text-anchor="middle" textLength="91.8" lengthAdjust="spacingAndGlyphs" fill="#a62850" stroke="#a62850" stroke-width="0.15">All patients (N=159)</text>
<text x="421.0" y="812.7" font-size="10.2" text-anchor="middle" textLength="59.6" lengthAdjust="spacingAndGlyphs" fill="#231f20" stroke="#231f20" stroke-width="0.15">NR (35.5-NE)</text>
<text x="421.0" y="827.9" font-size="10.2" text-anchor="middle" textLength="45.4" lengthAdjust="spacingAndGlyphs" fill="#231f20" stroke="#231f20" stroke-width="0.15">58 (50-65)</text>
<path d="M92.5 680.0H95.0V680.5H100.0V681.8H103.0V682.6H108.2V683.3H114.5V684.6H121.5V686.0H123.5V688.0H125.5V690.0H128.4V692.9H142.2V695.8H145.0V697.3H148.0V698.8H150.4V700.0H154.0V701.8H157.3V703.5H159.6V706.3H162.0V708.1H170.0V709.0H174.6V709.8H178.0V711.6H182.0V712.8H186.2V713.9H189.0V715.3H192.0V716.8H196.9V718.5H203.8V719.4H211.9V720.6H214.8V722.9H243.1V724.0H246.5V725.2H262.3V727.0H264.0V729.0H268.1V731.2H280.8V732.5H284.2V734.0H298.1V735.8H312.7V737.1H324.8V738.8H339.2V740.5H342.0V742.0H346.2V743.5H356.0V745.0H361.0V746.3H366.5V747.3H382.7V749.0H400.0V749.7H485.6" fill="none" stroke="#6ea2dc" stroke-width="2"/>
<path d="M92.5 680.0H98.0V685.3H107.0V691.0H112.8V696.3H122.6V702.0H126.7V707.3H130.7V712.6H169.4V718.5H171.7V724.2H178.7V730.2H198.7V736.3H205.5V742.1H218.5V748.2H223.1V754.2H382.7" fill="none" stroke="#659d3b" stroke-width="2"/>
<path d="M92.5 680.0H95.0V680.8H97.5V681.6H100.0V682.4H103.0V683.3H108.2V684.2H111.0V685.0H114.5V686.0H118.0V686.8H121.5V687.7H123.0V689.5H124.5V691.5H126.0V693.5H127.8V695.2H131.3V697.2H141.1V698.5H144.5V699.8H146.0V701.0H148.0V702.0H150.0V703.0H151.5V703.8H157.9V705.0H160.2V707.9H170.0V709.5H171.2V711.3H176.9V712.5H179.2V714.8H186.2V716.0H189.0V717.5H192.0V718.8H196.0V720.0H198.1V720.8H201.0V721.8H203.8V722.9H207.3V724.0H211.9V725.2H216.5V726.3H221.2V727.5H223.5V728.7H243.1V730.0H262.3V732.5H265.2V735.5H280.8V737.5H298.1V738.9H312.7V740.6H324.8V742.9H339.2V744.5H342.0V746.0H346.2V747.8H356.0V748.8H366.5V750.2H382.7V751.5H400.0V752.3H485.6" fill="none" stroke="#a10f35" stroke-width="2"/>
<line x1="93.2" y1="676.8" x2="93.2" y2="683.2" stroke="#86606e" stroke-width="1.1"/>
<line x1="207.3" y1="720.8" x2="207.3" y2="727.2" stroke="#86606e" stroke-width="1.1"/>
<line x1="238.5" y1="725.5" x2="238.5" y2="731.9" stroke="#86606e" stroke-width="1.1"/>
<line x1="276.0" y1="732.3" x2="276.0" y2="738.7" stroke="#86606e" stroke-width="1.1"/>
<line x1="289.5" y1="734.3" x2="289.5" y2="740.7" stroke="#86606e" stroke-width="1.1"/>
<line x1="292.0" y1="734.3" x2="292.0" y2="740.7" stroke="#86606e" stroke-width="1.1"/>
<line x1="298.7" y1="735.7" x2="298.7" y2="742.1" stroke="#86606e" stroke-width="1.1"/>
<line x1="345.0" y1="742.8" x2="345.0" y2="749.2" stroke="#86606e" stroke-width="1.1"/>
<line x1="360.0" y1="745.6" x2="360.0" y2="752.0" stroke="#86606e" stroke-width="1.1"/>
<line x1="372.0" y1="747.0" x2="372.0" y2="753.4" stroke="#86606e" stroke-width="1.1"/>
<line x1="380.0" y1="747.0" x2="380.0" y2="753.4" stroke="#86606e" stroke-width="1.1"/>
<line x1="395.0" y1="748.3" x2="395.0" y2="754.7" stroke="#86606e" stroke-width="1.1"/>
<line x1="412.0" y1="749.1" x2="412.0" y2="755.5" stroke="#86606e" stroke-width="1.1"/>
<line x1="420.0" y1="749.1" x2="420.0" y2="755.5" stroke="#86606e" stroke-width="1.1"/>
<line x1="428.0" y1="749.1" x2="428.0" y2="755.5" stroke="#86606e" stroke-width="1.1"/>
<line x1="440.0" y1="749.1" x2="440.0" y2="755.5" stroke="#86606e" stroke-width="1.1"/>
<line x1="448.0" y1="749.1" x2="448.0" y2="755.5" stroke="#86606e" stroke-width="1.1"/>
<line x1="452.0" y1="749.1" x2="452.0" y2="755.5" stroke="#86606e" stroke-width="1.1"/>
<line x1="462.0" y1="749.1" x2="462.0" y2="755.5" stroke="#86606e" stroke-width="1.1"/>
<line x1="470.0" y1="749.1" x2="470.0" y2="755.5" stroke="#86606e" stroke-width="1.1"/>
<line x1="478.0" y1="749.1" x2="478.0" y2="755.5" stroke="#86606e" stroke-width="1.1"/>
<line x1="485.6" y1="749.1" x2="485.6" y2="755.5" stroke="#86606e" stroke-width="1.1"/>
<line x1="93.2" y1="676.8" x2="93.2" y2="683.2" stroke="#7d9a6c" stroke-width="1.1"/>
<line x1="95.2" y1="676.8" x2="95.2" y2="683.2" stroke="#7d9a6c" stroke-width="1.1"/>
<line x1="151.2" y1="709.4" x2="151.2" y2="715.8" stroke="#7d9a6c" stroke-width="1.1"/>
<line x1="237.5" y1="751.0" x2="237.5" y2="757.4" stroke="#7d9a6c" stroke-width="1.1"/>
<line x1="264.4" y1="751.0" x2="264.4" y2="757.4" stroke="#7d9a6c" stroke-width="1.1"/>
<line x1="276.0" y1="751.0" x2="276.0" y2="757.4" stroke="#7d9a6c" stroke-width="1.1"/>
<line x1="289.0" y1="751.0" x2="289.0" y2="757.4" stroke="#7d9a6c" stroke-width="1.1"/>
<line x1="292.0" y1="751.0" x2="292.0" y2="757.4" stroke="#7d9a6c" stroke-width="1.1"/>
<line x1="307.0" y1="751.0" x2="307.0" y2="757.4" stroke="#7d9a6c" stroke-width="1.1"/>
<line x1="353.0" y1="751.0" x2="353.0" y2="757.4" stroke="#7d9a6c" stroke-width="1.1"/>
<line x1="357.0" y1="751.0" x2="357.0" y2="757.4" stroke="#7d9a6c" stroke-width="1.1"/>
<line x1="361.0" y1="751.0" x2="361.0" y2="757.4" stroke="#7d9a6c" stroke-width="1.1"/>
<line x1="377.7" y1="751.0" x2="377.7" y2="757.4" stroke="#7d9a6c" stroke-width="1.1"/>
<line x1="381.5" y1="751.0" x2="381.5" y2="757.4" stroke="#7d9a6c" stroke-width="1.1"/>
<line x1="207.3" y1="716.2" x2="207.3" y2="722.6" stroke="#74a6de" stroke-width="1.1"/>
<line x1="324.8" y1="735.6" x2="324.8" y2="742.0" stroke="#74a6de" stroke-width="1.1"/>
<line x1="329.0" y1="735.6" x2="329.0" y2="742.0" stroke="#74a6de" stroke-width="1.1"/>
<line x1="330.0" y1="735.6" x2="330.0" y2="742.0" stroke="#74a6de" stroke-width="1.1"/>
<line x1="331.0" y1="735.6" x2="331.0" y2="742.0" stroke="#74a6de" stroke-width="1.1"/>
<line x1="332.0" y1="735.6" x2="332.0" y2="742.0" stroke="#74a6de" stroke-width="1.1"/>
<line x1="333.0" y1="735.6" x2="333.0" y2="742.0" stroke="#74a6de" stroke-width="1.1"/>
<line x1="334.0" y1="735.6" x2="334.0" y2="742.0" stroke="#74a6de" stroke-width="1.1"/>
<line x1="335.0" y1="735.6" x2="335.0" y2="742.0" stroke="#74a6de" stroke-width="1.1"/>
<line x1="336.0" y1="735.6" x2="336.0" y2="742.0" stroke="#74a6de" stroke-width="1.1"/>
<line x1="337.0" y1="735.6" x2="337.0" y2="742.0" stroke="#74a6de" stroke-width="1.1"/>
<line x1="338.0" y1="735.6" x2="338.0" y2="742.0" stroke="#74a6de" stroke-width="1.1"/>
<line x1="339.0" y1="735.6" x2="339.0" y2="742.0" stroke="#74a6de" stroke-width="1.1"/>
<line x1="340.0" y1="737.3" x2="340.0" y2="743.7" stroke="#74a6de" stroke-width="1.1"/>
<line x1="344.6" y1="738.8" x2="344.6" y2="745.2" stroke="#74a6de" stroke-width="1.1"/>
<line x1="345.8" y1="738.8" x2="345.8" y2="745.2" stroke="#74a6de" stroke-width="1.1"/>
<line x1="347.0" y1="740.3" x2="347.0" y2="746.7" stroke="#74a6de" stroke-width="1.1"/>
<line x1="348.2" y1="740.3" x2="348.2" y2="746.7" stroke="#74a6de" stroke-width="1.1"/>
<line x1="349.4" y1="740.3" x2="349.4" y2="746.7" stroke="#74a6de" stroke-width="1.1"/>
<line x1="350.6" y1="740.3" x2="350.6" y2="746.7" stroke="#74a6de" stroke-width="1.1"/>
<line x1="351.8" y1="740.3" x2="351.8" y2="746.7" stroke="#74a6de" stroke-width="1.1"/>
<line x1="353.0" y1="740.3" x2="353.0" y2="746.7" stroke="#74a6de" stroke-width="1.1"/>
<line x1="354.2" y1="740.3" x2="354.2" y2="746.7" stroke="#74a6de" stroke-width="1.1"/>
<line x1="355.4" y1="740.3" x2="355.4" y2="746.7" stroke="#74a6de" stroke-width="1.1"/>
<line x1="356.6" y1="741.8" x2="356.6" y2="748.2" stroke="#74a6de" stroke-width="1.1"/>
<line x1="357.8" y1="741.8" x2="357.8" y2="748.2" stroke="#74a6de" stroke-width="1.1"/>
<line x1="359.0" y1="741.8" x2="359.0" y2="748.2" stroke="#74a6de" stroke-width="1.1"/>
<line x1="362.0" y1="743.1" x2="362.0" y2="749.5" stroke="#74a6de" stroke-width="1.1"/>
<line x1="364.5" y1="743.1" x2="364.5" y2="749.5" stroke="#74a6de" stroke-width="1.1"/>
<line x1="367.0" y1="744.1" x2="367.0" y2="750.5" stroke="#74a6de" stroke-width="1.1"/>
<line x1="369.5" y1="744.1" x2="369.5" y2="750.5" stroke="#74a6de" stroke-width="1.1"/>
<line x1="372.0" y1="744.1" x2="372.0" y2="750.5" stroke="#74a6de" stroke-width="1.1"/>
<line x1="374.5" y1="744.1" x2="374.5" y2="750.5" stroke="#74a6de" stroke-width="1.1"/>
<line x1="377.0" y1="744.1" x2="377.0" y2="750.5" stroke="#74a6de" stroke-width="1.1"/>
<line x1="379.5" y1="744.1" x2="379.5" y2="750.5" stroke="#74a6de" stroke-width="1.1"/>
<line x1="382.0" y1="744.1" x2="382.0" y2="750.5" stroke="#74a6de" stroke-width="1.1"/>
<line x1="383.2" y1="745.8" x2="383.2" y2="752.2" stroke="#74a6de" stroke-width="1.1"/>
<line x1="384.4" y1="745.8" x2="384.4" y2="752.2" stroke="#74a6de" stroke-width="1.1"/>
<line x1="385.6" y1="745.8" x2="385.6" y2="752.2" stroke="#74a6de" stroke-width="1.1"/>
<line x1="386.8" y1="745.8" x2="386.8" y2="752.2" stroke="#74a6de" stroke-width="1.1"/>
<line x1="388.0" y1="745.8" x2="388.0" y2="752.2" stroke="#74a6de" stroke-width="1.1"/>
<line x1="389.2" y1="745.8" x2="389.2" y2="752.2" stroke="#74a6de" stroke-width="1.1"/>
<line x1="390.4" y1="745.8" x2="390.4" y2="752.2" stroke="#74a6de" stroke-width="1.1"/>
<line x1="391.6" y1="745.8" x2="391.6" y2="752.2" stroke="#74a6de" stroke-width="1.1"/>
<line x1="392.8" y1="745.8" x2="392.8" y2="752.2" stroke="#74a6de" stroke-width="1.1"/>
<line x1="394.0" y1="745.8" x2="394.0" y2="752.2" stroke="#74a6de" stroke-width="1.1"/>
<line x1="395.2" y1="745.8" x2="395.2" y2="752.2" stroke="#74a6de" stroke-width="1.1"/>
<line x1="396.4" y1="745.8" x2="396.4" y2="752.2" stroke="#74a6de" stroke-width="1.1"/>
<line x1="397.6" y1="745.8" x2="397.6" y2="752.2" stroke="#74a6de" stroke-width="1.1"/>
<line x1="398.8" y1="745.8" x2="398.8" y2="752.2" stroke="#74a6de" stroke-width="1.1"/>
<line x1="400.0" y1="746.5" x2="400.0" y2="752.9" stroke="#74a6de" stroke-width="1.1"/>
<line x1="402.0" y1="746.5" x2="402.0" y2="752.9" stroke="#74a6de" stroke-width="1.1"/>
<line x1="404.6" y1="746.5" x2="404.6" y2="752.9" stroke="#74a6de" stroke-width="1.1"/>
<line x1="407.2" y1="746.5" x2="407.2" y2="752.9" stroke="#74a6de" stroke-width="1.1"/>
<line x1="409.8" y1="746.5" x2="409.8" y2="752.9" stroke="#74a6de" stroke-width="1.1"/>
<line x1="412.4" y1="746.5" x2="412.4" y2="752.9" stroke="#74a6de" stroke-width="1.1"/>
<line x1="415.0" y1="746.5" x2="415.0" y2="752.9" stroke="#74a6de" stroke-width="1.1"/>
<line x1="417.6" y1="746.5" x2="417.6" y2="752.9" stroke="#74a6de" stroke-width="1.1"/>
<line x1="420.2" y1="746.5" x2="420.2" y2="752.9" stroke="#74a6de" stroke-width="1.1"/>
<line x1="422.8" y1="746.5" x2="422.8" y2="752.9" stroke="#74a6de" stroke-width="1.1"/>
<line x1="425.4" y1="746.5" x2="425.4" y2="752.9" stroke="#74a6de" stroke-width="1.1"/>
<line x1="428.0" y1="746.5" x2="428.0" y2="752.9" stroke="#74a6de" stroke-width="1.1"/>
<line x1="430.6" y1="746.5" x2="430.6" y2="752.9" stroke="#74a6de" stroke-width="1.1"/>
<line x1="433.2" y1="746.5" x2="433.2" y2="752.9" stroke="#74a6de" stroke-width="1.1"/>
<line x1="435.8" y1="746.5" x2="435.8" y2="752.9" stroke="#74a6de" stroke-width="1.1"/>
<line x1="438.4" y1="746.5" x2="438.4" y2="752.9" stroke="#74a6de" stroke-width="1.1"/>
<line x1="441.0" y1="746.5" x2="441.0" y2="752.9" stroke="#74a6de" stroke-width="1.1"/>
<line x1="443.6" y1="746.5" x2="443.6" y2="752.9" stroke="#74a6de" stroke-width="1.1"/>
<line x1="446.2" y1="746.5" x2="446.2" y2="752.9" stroke="#74a6de" stroke-width="1.1"/>
<line x1="448.8" y1="746.5" x2="448.8" y2="752.9" stroke="#74a6de" stroke-width="1.1"/>
<line x1="451.4" y1="746.5" x2="451.4" y2="752.9" stroke="#74a6de" stroke-width="1.1"/>
<line x1="454.0" y1="746.5" x2="454.0" y2="752.9" stroke="#74a6de" stroke-width="1.1"/>
<line x1="456.6" y1="746.5" x2="456.6" y2="752.9" stroke="#74a6de" stroke-width="1.1"/>
<line x1="459.2" y1="746.5" x2="459.2" y2="752.9" stroke="#74a6de" stroke-width="1.1"/>
<line x1="461.8" y1="746.5" x2="461.8" y2="752.9" stroke="#74a6de" stroke-width="1.1"/>
<line x1="464.4" y1="746.5" x2="464.4" y2="752.9" stroke="#74a6de" stroke-width="1.1"/>
<line x1="467.0" y1="746.5" x2="467.0" y2="752.9" stroke="#74a6de" stroke-width="1.1"/>
<line x1="469.6" y1="746.5" x2="469.6" y2="752.9" stroke="#74a6de" stroke-width="1.1"/>
<line x1="472.2" y1="746.5" x2="472.2" y2="752.9" stroke="#74a6de" stroke-width="1.1"/>
<line x1="474.8" y1="746.5" x2="474.8" y2="752.9" stroke="#74a6de" stroke-width="1.1"/>
<line x1="477.4" y1="746.5" x2="477.4" y2="752.9" stroke="#74a6de" stroke-width="1.1"/>
<line x1="480.0" y1="746.5" x2="480.0" y2="752.9" stroke="#74a6de" stroke-width="1.1"/>
<line x1="482.6" y1="746.5" x2="482.6" y2="752.9" stroke="#74a6de" stroke-width="1.1"/>
<line x1="485.2" y1="746.5" x2="485.2" y2="752.9" stroke="#74a6de" stroke-width="1.1"/>
<text x="52.7" y="894.5" font-size="10.2" textLength="46.8" lengthAdjust="spacingAndGlyphs" fill="#231f20" stroke="#231f20" stroke-width="0.15">No. at risk</text>
<text x="79.4" y="911.2" font-size="10.2" text-anchor="end" textLength="10.3" lengthAdjust="spacingAndGlyphs" fill="#7ca6da" stroke="#7ca6da" stroke-width="0.15">FL</text>
<text x="92.5" y="911.2" font-size="10.2" text-anchor="middle" fill="#231f20" stroke="#231f20" stroke-width="0.15">127</text>
<text x="121.0" y="911.2" font-size="10.2" text-anchor="middle" fill="#231f20" stroke="#231f20" stroke-width="0.15">122</text>
<text x="149.5" y="911.2" font-size="10.2" text-anchor="middle" fill="#231f20" stroke="#231f20" stroke-width="0.15">111</text>
<text x="178.0" y="911.2" font-size="10.2" text-anchor="middle" fill="#231f20" stroke="#231f20" stroke-width="0.15">102</text>
<text x="206.5" y="911.2" font-size="10.2" text-anchor="middle" fill="#231f20" stroke="#231f20" stroke-width="0.15">94</text>
<text x="235.0" y="911.2" font-size="10.2" text-anchor="middle" fill="#231f20" stroke="#231f20" stroke-width="0.15">91</text>
<text x="263.5" y="911.2" font-size="10.2" text-anchor="middle" fill="#231f20" stroke="#231f20" stroke-width="0.15">88</text>
<text x="292.0" y="911.2" font-size="10.2" text-anchor="middle" fill="#231f20" stroke="#231f20" stroke-width="0.15">81</text>
<text x="320.5" y="911.2" font-size="10.2" text-anchor="middle" fill="#231f20" stroke="#231f20" stroke-width="0.15">78</text>
<text x="349.0" y="911.2" font-size="10.2" text-anchor="middle" fill="#231f20" stroke="#231f20" stroke-width="0.15">57</text>
<text x="377.5" y="911.2" font-size="10.2" text-anchor="middle" fill="#231f20" stroke="#231f20" stroke-width="0.15">44</text>
<text x="406.0" y="911.2" font-size="10.2" text-anchor="middle" fill="#231f20" stroke="#231f20" stroke-width="0.15">28</text>
<text x="434.5" y="911.2" font-size="10.2" text-anchor="middle" fill="#231f20" stroke="#231f20" stroke-width="0.15">15</text>
<text x="463.1" y="911.2" font-size="10.2" text-anchor="middle" fill="#231f20" stroke="#231f20" stroke-width="0.15">6</text>
<text x="491.6" y="911.2" font-size="10.2" text-anchor="middle" fill="#231f20" stroke="#231f20" stroke-width="0.15">0</text>
<text x="79.4" y="927.3" font-size="10.2" text-anchor="end" textLength="20.0" lengthAdjust="spacingAndGlyphs" fill="#72a955" stroke="#72a955" stroke-width="0.15">MZL</text>
<text x="92.5" y="927.3" font-size="10.2" text-anchor="middle" fill="#231f20" stroke="#231f20" stroke-width="0.15">31</text>
<text x="121.0" y="927.3" font-size="10.2" text-anchor="middle" fill="#231f20" stroke="#231f20" stroke-width="0.15">26</text>
<text x="149.5" y="927.3" font-size="10.2" text-anchor="middle" fill="#231f20" stroke="#231f20" stroke-width="0.15">23</text>
<text x="178.0" y="927.3" font-size="10.2" text-anchor="middle" fill="#231f20" stroke="#231f20" stroke-width="0.15">19</text>
<text x="206.5" y="927.3" font-size="10.2" text-anchor="middle" fill="#231f20" stroke="#231f20" stroke-width="0.15">16</text>
<text x="235.0" y="927.3" font-size="10.2" text-anchor="middle" fill="#231f20" stroke="#231f20" stroke-width="0.15">14</text>
<text x="263.5" y="927.3" font-size="10.2" text-anchor="middle" fill="#231f20" stroke="#231f20" stroke-width="0.15">13</text>
<text x="292.0" y="927.3" font-size="10.2" text-anchor="middle" fill="#231f20" stroke="#231f20" stroke-width="0.15">8</text>
<text x="320.5" y="927.3" font-size="10.2" text-anchor="middle" fill="#231f20" stroke="#231f20" stroke-width="0.15">7</text>
<text x="349.0" y="927.3" font-size="10.2" text-anchor="middle" fill="#231f20" stroke="#231f20" stroke-width="0.15">7</text>
<text x="377.5" y="927.3" font-size="10.2" text-anchor="middle" fill="#231f20" stroke="#231f20" stroke-width="0.15">2</text>
<text x="406.0" y="927.3" font-size="10.2" text-anchor="middle" fill="#231f20" stroke="#231f20" stroke-width="0.15">0</text>
<text x="79.4" y="943.6" font-size="10.2" text-anchor="end" textLength="51.8" lengthAdjust="spacingAndGlyphs" fill="#a62850" stroke="#a62850" stroke-width="0.15">All patients</text>
<text x="92.5" y="943.6" font-size="10.2" text-anchor="middle" fill="#231f20" stroke="#231f20" stroke-width="0.15">159</text>
<text x="121.0" y="943.6" font-size="10.2" text-anchor="middle" fill="#231f20" stroke="#231f20" stroke-width="0.15">148</text>
<text x="149.5" y="943.6" font-size="10.2" text-anchor="middle" fill="#231f20" stroke="#231f20" stroke-width="0.15">134</text>
<text x="178.0" y="943.6" font-size="10.2" text-anchor="middle" fill="#231f20" stroke="#231f20" stroke-width="0.15">121</text>
<text x="206.5" y="943.6" font-size="10.2" text-anchor="middle" fill="#231f20" stroke="#231f20" stroke-width="0.15">110</text>
<text x="235.0" y="943.6" font-size="10.2" text-anchor="middle" fill="#231f20" stroke="#231f20" stroke-width="0.15">105</text>
<text x="263.5" y="943.6" font-size="10.2" text-anchor="middle" fill="#231f20" stroke="#231f20" stroke-width="0.15">101</text>
<text x="292.0" y="943.6" font-size="10.2" text-anchor="middle" fill="#231f20" stroke="#231f20" stroke-width="0.15">89</text>
<text x="320.5" y="943.6" font-size="10.2" text-anchor="middle" fill="#231f20" stroke="#231f20" stroke-width="0.15">85</text>
<text x="349.0" y="943.6" font-size="10.2" text-anchor="middle" fill="#231f20" stroke="#231f20" stroke-width="0.15">64</text>
<text x="377.5" y="943.6" font-size="10.2" text-anchor="middle" fill="#231f20" stroke="#231f20" stroke-width="0.15">46</text>
<text x="406.0" y="943.6" font-size="10.2" text-anchor="middle" fill="#231f20" stroke="#231f20" stroke-width="0.15">28</text>
<text x="434.5" y="943.6" font-size="10.2" text-anchor="middle" fill="#231f20" stroke="#231f20" stroke-width="0.15">15</text>
<text x="463.1" y="943.6" font-size="10.2" text-anchor="middle" fill="#231f20" stroke="#231f20" stroke-width="0.15">6</text>
<text x="491.6" y="943.6" font-size="10.2" text-anchor="middle" fill="#231f20" stroke="#231f20" stroke-width="0.15">0</text>
<rect x="0" y="0" width="520" height="1" fill="#000"/><rect x="0" y="0" width="1" height="956" fill="#000"/><rect x="519" y="0" width="1" height="956" fill="#000"/><rect x="0" y="955" width="520" height="1" fill="#000"/>
</svg>
</body></html>
